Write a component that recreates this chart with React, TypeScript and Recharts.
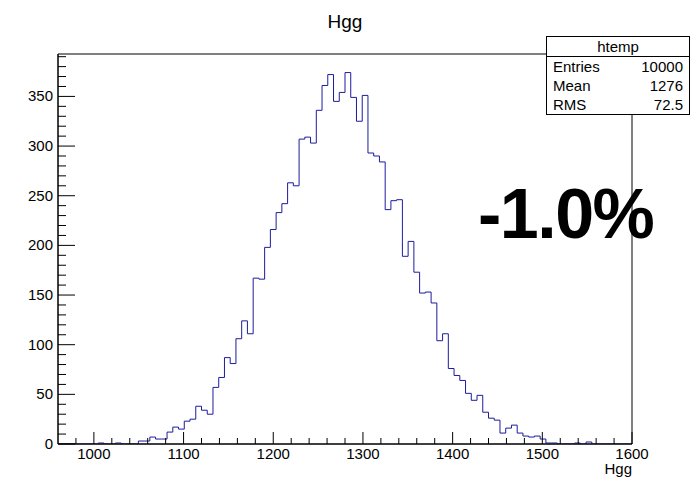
import React from 'react';
import { ComposedChart, Line, XAxis, YAxis, ReferenceArea } from 'recharts';

const X_MIN = 960;
const X_MAX = 1600;
const BIN_WIDTH = 6.4;
const Y_MAX = 392.7;

const binCounts = [
  0, 0, 0, 0, 0, 0, 0, 1, 0, 0,
  1, 0, 0, 0, 3, 3, 7, 5, 5, 12,
  17, 15, 23, 25, 38, 34, 30, 57, 67, 87,
  81, 106, 124, 111, 167, 166, 198, 216, 233, 242,
  263, 260, 307, 309, 303, 336, 361, 372, 345, 354,
  374, 349, 325, 351, 293, 290, 284, 236, 245, 246,
  189, 204, 173, 152, 153, 142, 104, 111, 76, 69,
  64, 51, 44, 49, 32, 26, 24, 11, 16, 19,
  11, 8, 7, 8, 5, 1, 1, 0, 0, 0,
  1, 0, 2, 0, 0, 0, 0, 0, 0, 0,
];

const xMajorTicks = [1000, 1100, 1200, 1300, 1400, 1500, 1600];
const yMajorTicks = [0, 50, 100, 150, 200, 250, 300, 350];
const statsTitle = 'htemp';
const statsLabels = ['Entries', 'Mean', 'RMS'];
const statsValues = ['10000', '1276', '72.5'];
const chartTitle = 'Hgg';
const xAxisTitle = 'Hgg';
const bigLabel = '-1.0%';

const data = binCounts.map((c, i) => ({ x: X_MIN + BIN_WIDTH * i, y: c }));
data.push({ x: X_MAX, y: binCounts[binCounts.length - 1] });

const xTicks: number[] = [];
for (let v = 980; v <= 1600; v += 20) xTicks.push(v);
const yTicks: number[] = [];
for (let v = 0; v <= 390; v += 10) yTicks.push(v);

const FONT = '"Liberation Sans", Arial, Helvetica, sans-serif';

const renderXTick = (props: any) => {
  const { x, y, payload } = props;
  const v = payload.value;
  const major = xMajorTicks.includes(v);
  return (
    <g key={`xt-${v}`}>
      <line x1={x} x2={x} y1={y} y2={y - (major ? 12 : 6)} stroke="#000" strokeWidth={1} />
      {major && (
        <text x={x} y={y + 15} textAnchor="middle" fontSize={15} fontFamily={FONT} fill="#000">
          {v}
        </text>
      )}
    </g>
  );
};

const renderYTick = (props: any) => {
  const { x, y, payload } = props;
  const v = payload.value;
  const major = yMajorTicks.includes(v);
  return (
    <g key={`yt-${v}`}>
      <line x1={x} x2={x + (major ? 17 : 8)} y1={y} y2={y} stroke="#000" strokeWidth={1} />
      {major && (
        <text x={x - 5} y={y + 5} textAnchor="end" fontSize={15} fontFamily={FONT} fill="#000">
          {v}
        </text>
      )}
    </g>
  );
};

export default function App() {
  return (
    <div style={{ position: 'absolute', left: 0, top: 0, width: 690, height: 480, background: '#fff', fontFamily: FONT }}>
      <ComposedChart
        width={690}
        height={480}
        data={data}
        margin={{ top: 54, right: 58, bottom: 0, left: 0 }}
      >
        <XAxis
          dataKey="x"
          type="number"
          domain={[X_MIN, X_MAX]}
          ticks={xTicks}
          interval={0}
          tick={renderXTick}
          tickLine={false}
          tickSize={0}
          tickMargin={0}
          height={36}
          axisLine={{ stroke: '#000' }}
          allowDataOverflow
        />
        <YAxis
          type="number"
          domain={[0, Y_MAX]}
          ticks={yTicks}
          interval={0}
          tick={renderYTick}
          tickLine={false}
          tickSize={0}
          tickMargin={0}
          width={58}
          axisLine={{ stroke: '#000' }}
          allowDataOverflow
        />
        <ReferenceArea x1={X_MIN} x2={X_MAX} y1={0} y2={Y_MAX} fill="none" fillOpacity={0} stroke="#000" strokeWidth={1} />
        <Line
          type="stepAfter"
          dataKey="y"
          stroke="#1c1c9c"
          strokeWidth={1}
          dot={false}
          activeDot={false}
          isAnimationActive={false}
        />
      </ComposedChart>
      <div style={{ position: 'absolute', left: 0, top: 11, width: 690, textAlign: 'center', fontSize: 19, lineHeight: '22px', color: '#000' }}>
        {chartTitle}
      </div>
      <div style={{ position: 'absolute', right: 690 - 632, top: 460, fontSize: 15, lineHeight: '17px', color: '#000' }}>
        {xAxisTitle}
      </div>
      <div style={{ position: 'absolute', left: 478, top: 174, fontSize: 70, fontWeight: 'bold', lineHeight: '80px', color: '#000', letterSpacing: -1.5, whiteSpace: 'nowrap' }}>
        {bigLabel}
      </div>
      <div style={{ position: 'absolute', left: 546, top: 36, width: 142, height: 77, border: '1px solid #000', background: '#fff', fontSize: 15, color: '#000' }}>
        <div style={{ height: 19, borderBottom: '1px solid #000', textAlign: 'center', lineHeight: '19px' }}>{statsTitle}</div>
        {statsLabels.map((l, i) => (
          <div key={l} style={{ display: 'flex', justifyContent: 'space-between', padding: '0 6px 0 6px', height: 19, lineHeight: '19px' }}>
            <span>{l}</span>
            <span>{statsValues[i]}</span>
          </div>
        ))}
      </div>
    </div>
  );
}
